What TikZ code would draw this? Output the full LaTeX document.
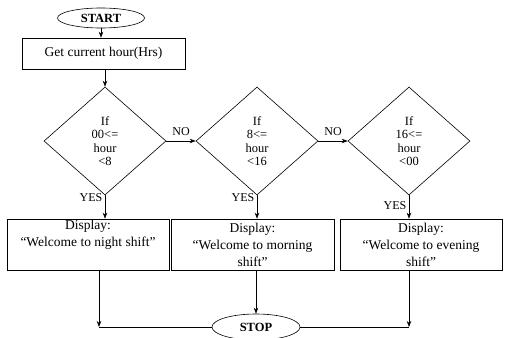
\documentclass[tikz,border=0pt]{standalone}
\usepackage{fontspec}
\setmainfont{Liberation Serif}
\usetikzlibrary{shapes.geometric,arrows.meta}

\tikzstyle{terminal} = [draw=black, ellipse, inner sep=0pt, font=\fontsize{12.5}{14}\selectfont\bfseries]
\tikzstyle{process} = [draw=black, rectangle, inner sep=0pt, align=center, font=\fontsize{13.5}{17}\selectfont]
\tikzstyle{decision} = [draw=black, diamond, inner sep=0pt, minimum width=122pt, minimum height=108pt, align=center, font=\fontsize{12.5}{13.5}\selectfont]
\tikzstyle{flowlabel} = [font=\fontsize{12}{14}\selectfont]
\tikzstyle{flow} = [-{Stealth[length=6pt,width=4.5pt]}]

\begin{document}
\begin{tikzpicture}[x=1pt,y=-1pt,line width=0.6pt]
\useasboundingbox (0,0) rectangle (505,337);
\node[terminal, minimum width=87pt, minimum height=20pt] (start) at (101,18) {START};
\node[process, minimum width=163pt, minimum height=31pt] (gethour) at (103.5,53.5) {Get current hour(Hrs)};
\node[decision] (night) at (105,141) {If\\00<=\\hour\\<8};
\node[decision] (morning) at (257,141) {If\\8<=\\hour\\<16};
\node[decision] (evening) at (409,141) {If\\16<=\\hour\\<00};
\node[process, minimum width=162pt, minimum height=51pt] (shownight) at (88,244.5) {Display:\\``Welcome to night shift''\\ \strut};
\node[process, minimum width=163pt, minimum height=51pt] (showmorning) at (252.5,244.5) {Display:\\``Welcome to morning\\shift''};
\node[process, minimum width=162pt, minimum height=51pt] (showevening) at (421,244.5) {Display:\\``Welcome to evening\\shift''};
\node[terminal, minimum width=88pt, minimum height=26pt] (stop) at (256,327) {STOP};
\coordinate (joinleft) at (99,327);
\coordinate (joinright) at (409,327);

\draw[flow] (start.south) -- (start.south |- gethour.north);
\draw[flow] (night.north |- gethour.south) -- (night.north);
\draw[flow] (night.east) -- (morning.west) node[flowlabel, midway, above=2pt] {NO};
\draw[flow] (morning.east) -- (evening.west) node[flowlabel, midway, above=2pt] {NO};
\draw[flow] (night.south) -- (night.south |- shownight.north) node[flowlabel, pos=0.1, left=-1pt] {YES};
\draw[flow] (morning.south) -- (morning.south |- showmorning.north) node[flowlabel, pos=0.1, left=-1pt] {YES};
\draw[flow] (evening.south) -- (evening.south |- showevening.north) node[flowlabel, pos=0.45, left=-1pt] {YES};
\draw[flow] (shownight.south -| joinleft) -- (joinleft);
\draw (joinleft) -- (stop.west);
\draw[flow] (stop.north |- showmorning.south) -- (stop.north);
\draw[flow] (showevening.south -| joinright) -- (joinright);
\draw (stop.east) -- (joinright);
\end{tikzpicture}
\end{document}
